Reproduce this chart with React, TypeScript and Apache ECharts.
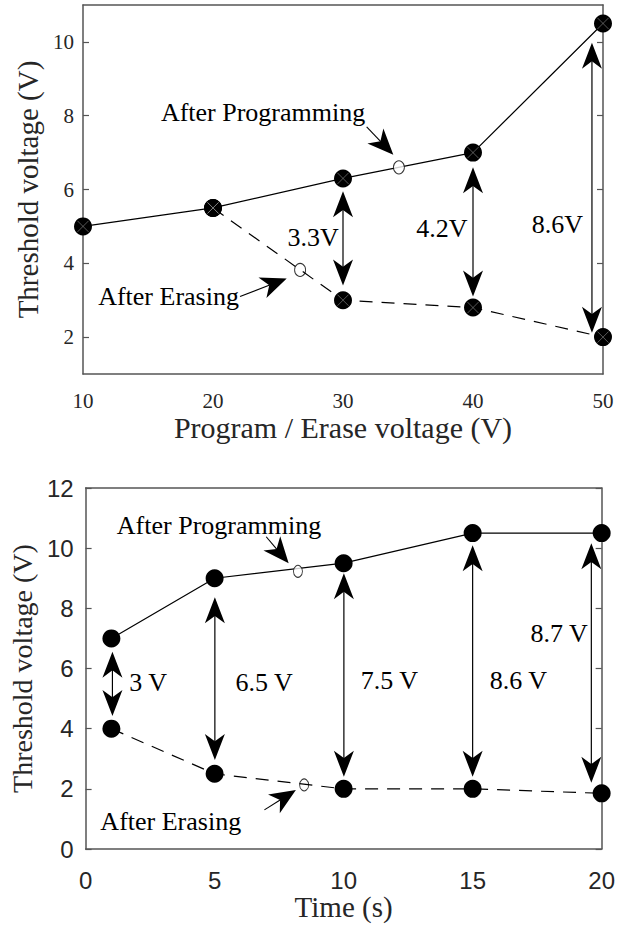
import React, { useEffect, useRef } from 'react';
import * as echarts from 'echarts';

// ---------- Top panel data ----------
const topX = [10, 20, 30, 40, 50];
const topProgram = [5, 5.5, 6.3, 7, 10.5];
const topEraseX = [20, 30, 40, 50];
const topErase = [5.5, 3.0, 2.8, 2.0];
const topYTicks = [2, 4, 6, 8, 10];
const topOpenProgram = [[34.3, 6.6]];
const topOpenErase = [[26.7, 3.82]];
const topGapArrows = [[30, 5.95, 3.4], [40, 6.6, 3.1], [49.15, 9.98, 2.12]];
const topGapLabels = ['3.3V', '4.2V', '8.6V'];
const topGapLabelPos = [[27.7, 4.69], [37.6, 4.93], [46.5, 5.04]];
const topNoteLabels = ['After Programming', 'After Erasing'];
const topNotePos = [[23.85, 8.1], [16.58, 3.11]];
const topPointers = [[31.82, 7.7, 33.87, 6.94], [22.08, 3.1, 25.67, 3.59]];

// ---------- Bottom panel data ----------
const botX = [1, 5, 10, 15, 20];
const botProgram = [7, 9, 9.5, 10.5, 10.5];
const botErase = [4, 2.5, 2, 2, 1.85];
const botOpenProgram = [[8.23, 9.23]];
const botOpenErase = [[8.47, 2.13]];
const botGapArrows = [[1.04, 6.56, 4.42], [5.01, 8.37, 2.96], [10.01, 9.17, 2.4], [15, 10.1, 2.4], [19.6, 10.16, 2.2]];
const botGapLabels = ['3 V', '6.5 V', '7.5 V', '8.6 V', '8.7 V'];
const botGapLabelPos = [[2.42, 5.52], [6.92, 5.52], [11.77, 5.59], [16.77, 5.59], [18.35, 7.18]];
const botNoteLabels = ['After Programming', 'After Erasing'];
const botNotePos = [[5.17, 10.77], [3.3, 0.93]];
const botPointers = [[7.0, 10.38, 7.87, 9.5], [6.93, 1.3, 8.15, 1.96]];

const serif = 'Liberation Serif';
const sans = 'Liberation Sans';
const axisColor = '#555';
const labelColor = '#262626';

function head(tip: number[], ux: number, uy: number, L: number, W: number) {
  const nx = -uy;
  const ny = ux;
  const bx = tip[0] - ux * L;
  const by = tip[1] - uy * L;
  return [
    [tip[0], tip[1]],
    [bx + (nx * W) / 2, by + (ny * W) / 2],
    [tip[0] - ux * L * 0.72, tip[1] - uy * L * 0.72],
    [bx - (nx * W) / 2, by - (ny * W) / 2],
  ];
}

const HL = 26;
const HW = 20;
const PL = 26;
const PW = 22;

const renderDouble = (_params: any, api: any) => {
  const a = api.coord([api.value(0), api.value(1)]);
  const b = api.coord([api.value(0), api.value(2)]);
  const dx = b[0] - a[0];
  const dy = b[1] - a[1];
  const len = Math.hypot(dx, dy) || 1;
  const ux = dx / len;
  const uy = dy / len;
  return {
    type: 'group',
    children: [
      {
        type: 'line',
        shape: { x1: a[0] + ux * HL * 0.7, y1: a[1] + uy * HL * 0.7, x2: b[0] - ux * HL * 0.7, y2: b[1] - uy * HL * 0.7 },
        style: { stroke: '#000', lineWidth: 1.2 },
      },
      { type: 'polygon', shape: { points: head(a, -ux, -uy, HL, HW) }, style: { fill: '#000' } },
      { type: 'polygon', shape: { points: head(b, ux, uy, HL, HW) }, style: { fill: '#000' } },
    ],
  };
};

const renderPointer = (_params: any, api: any) => {
  const a = api.coord([api.value(0), api.value(1)]);
  const b = api.coord([api.value(2), api.value(3)]);
  const dx = b[0] - a[0];
  const dy = b[1] - a[1];
  const len = Math.hypot(dx, dy) || 1;
  const ux = dx / len;
  const uy = dy / len;
  return {
    type: 'group',
    children: [
      {
        type: 'line',
        shape: { x1: a[0], y1: a[1], x2: b[0] - ux * PL * 0.7, y2: b[1] - uy * PL * 0.7 },
        style: { stroke: '#000', lineWidth: 1.1 },
      },
      { type: 'polygon', shape: { points: head(b, ux, uy, PL, PW) }, style: { fill: '#000' } },
    ],
  };
};

const makeTextRenderer = (labels: string[], size: number) => (params: any, api: any) => {
  const p = api.coord([api.value(0), api.value(1)]);
  return {
    type: 'text',
    x: p[0],
    y: p[1],
    style: {
      text: labels[params.dataIndex],
      fontFamily: serif,
      fontSize: size,
      fill: '#000',
      align: 'center',
      verticalAlign: 'middle',
    },
  };
};

function panelSeries(
  g: number,
  xs: number[],
  prog: number[],
  exs: number[],
  erase: number[],
  openProg: number[][],
  openErase: number[][],
  gapArrows: number[][],
  gapLabels: string[],
  gapPos: number[][],
  noteLabels: string[],
  notePos: number[][],
  pointers: number[][],
  withCross: boolean
) {
  const idx = { xAxisIndex: g * 2, yAxisIndex: g * 2 };
  const series: any[] = [
    {
      type: 'line',
      ...idx,
      data: exs.map((x, i) => [x, erase[i]]),
      symbol: 'circle',
      symbolSize: 18,
      itemStyle: { color: '#000' },
      lineStyle: { color: '#000', width: 1.2, type: [13, 9] },
      z: 3,
    },
    {
      type: 'line',
      ...idx,
      data: xs.map((x, i) => [x, prog[i]]),
      symbol: 'circle',
      symbolSize: 18,
      itemStyle: { color: '#000' },
      lineStyle: { color: '#000', width: 1.2 },
      z: 4,
    },
    {
      type: 'scatter',
      ...idx,
      data: openProg,
      symbol: 'circle',
      symbolSize: withCross ? [11, 13] : [9, 12],
      itemStyle: { color: '#fff', borderColor: '#000', borderWidth: 1 },
      z: 5,
    },
    {
      type: 'scatter',
      ...idx,
      data: openErase,
      symbol: 'circle',
      symbolSize: withCross ? [11, 13] : [9, 12],
      itemStyle: { color: 'rgba(0,0,0,0)', borderColor: '#000', borderWidth: 1 },
      z: 5,
    },
    { type: 'custom', ...idx, renderItem: renderDouble, data: gapArrows, z: 6 },
    { type: 'custom', ...idx, renderItem: renderPointer, data: pointers, z: 6 },
    { type: 'custom', ...idx, renderItem: makeTextRenderer(gapLabels, 26), data: gapPos, z: 7 },
    { type: 'custom', ...idx, renderItem: makeTextRenderer(noteLabels, 26), data: notePos, z: 7 },
  ];
  if (withCross) {
    series.push({
      type: 'scatter',
      ...idx,
      data: xs.map((x, i) => [x, prog[i]]).concat(exs.map((x, i) => [x, erase[i]])),
      symbol: 'path://M0 0L10 10M10 0L0 10',
      symbolSize: 11,
      itemStyle: { color: 'rgba(0,0,0,0)', borderColor: '#9a9a9a', borderWidth: 0.7 },
      z: 8,
    });
  }
  return series;
}

const axisLine = { show: true, onZero: false, lineStyle: { color: axisColor, width: 1.5 } };
const tickStyle = { color: axisColor, width: 1.2 };

export default function App() {
  const ref = useRef<HTMLDivElement>(null);
  useEffect(() => {
    if (!ref.current) return;
    const chart = echarts.init(ref.current, null, { renderer: 'svg' });
    const option: any = {
      animation: false,
      backgroundColor: '#fff',
      grid: [
        { left: 83, top: 5, width: 520, height: 369 },
        { left: 83, top: 488, width: 520, height: 361 },
      ],
      xAxis: [
        {
          gridIndex: 0, type: 'value', min: 10, max: 50, interval: 10, position: 'bottom',
          axisLine, axisTick: { show: false }, splitLine: { show: false },
          axisLabel: { fontFamily: serif, fontSize: 21, color: labelColor, margin: 16 },
          name: 'Program / Erase voltage (V)', nameLocation: 'middle', nameGap: 38,
          nameTextStyle: { fontFamily: serif, fontSize: 30, color: labelColor },
        },
        {
          gridIndex: 0, type: 'value', min: 10, max: 50, interval: 10, position: 'top',
          axisLine, axisTick: { show: false }, axisLabel: { show: false }, splitLine: { show: false },
        },
        {
          gridIndex: 1, type: 'value', min: 0, max: 20, interval: 5, position: 'bottom',
          axisLine, axisTick: { show: false }, splitLine: { show: false },
          axisLabel: { fontFamily: sans, fontSize: 24, color: labelColor, margin: 19 },
          name: 'Time (s)', nameLocation: 'middle', nameGap: 43,
          nameTextStyle: { fontFamily: serif, fontSize: 29, color: labelColor },
        },
        {
          gridIndex: 1, type: 'value', min: 0, max: 20, interval: 5, position: 'top',
          axisLine, axisTick: { show: false }, axisLabel: { show: false }, splitLine: { show: false },
        },
      ],
      yAxis: [
        {
          gridIndex: 0, type: 'value', min: 1, max: 11, position: 'left',
          axisLine,
          axisTick: { show: true, inside: true, length: 6, customValues: topYTicks, lineStyle: tickStyle },
          axisLabel: { customValues: topYTicks, fontFamily: serif, fontSize: 21, color: labelColor, margin: 9 },
          splitLine: { show: false },
          name: 'Threshold voltage (V)', nameLocation: 'middle', nameGap: 39,
          nameTextStyle: { fontFamily: serif, fontSize: 29, color: labelColor },
        },
        {
          gridIndex: 0, type: 'value', min: 1, max: 11, position: 'right',
          axisLine,
          axisTick: { show: true, inside: true, length: 6, customValues: topYTicks, lineStyle: tickStyle },
          axisLabel: { show: false }, splitLine: { show: false },
        },
        {
          gridIndex: 1, type: 'value', min: 0, max: 12, interval: 2, position: 'left',
          axisLine,
          axisTick: { show: true, inside: true, length: 6, lineStyle: tickStyle },
          axisLabel: { fontFamily: sans, fontSize: 24, color: labelColor, margin: 12 },
          splitLine: { show: false },
          name: 'Threshold voltage (V)', nameLocation: 'middle', nameGap: 48,
          nameTextStyle: { fontFamily: serif, fontSize: 28, color: labelColor },
        },
        {
          gridIndex: 1, type: 'value', min: 0, max: 12, interval: 2, position: 'right',
          axisLine,
          axisTick: { show: true, inside: true, length: 6, lineStyle: tickStyle },
          axisLabel: { show: false }, splitLine: { show: false },
        },
      ],
      series: [
        ...panelSeries(0, topX, topProgram, topEraseX, topErase, topOpenProgram, topOpenErase,
          topGapArrows, topGapLabels, topGapLabelPos, topNoteLabels, topNotePos, topPointers, true),
        ...panelSeries(1, botX, botProgram, botX, botErase, botOpenProgram, botOpenErase,
          botGapArrows, botGapLabels, botGapLabelPos, botNoteLabels, botNotePos, botPointers, false),
      ],
    };
    chart.setOption(option);
    return () => chart.dispose();
  }, []);
  return (
    <div
      ref={ref}
      style={{ position: 'fixed', left: 0, top: 0, width: 618, height: 934, background: '#fff' }}
    />
  );
}
